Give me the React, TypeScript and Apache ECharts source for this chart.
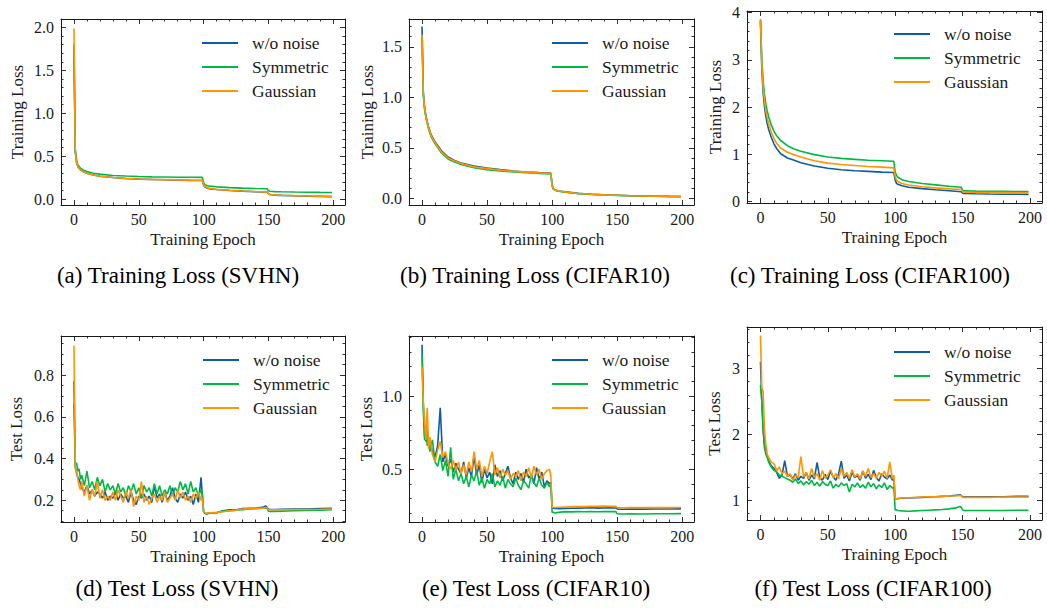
import React, { useEffect, useRef } from "react";
import * as echarts from "echarts";

const FONT = '"Liberation Serif", "Times New Roman", serif';
const INK = "#1a1a1a";
const NAMES = ["w/o noise", "Symmetric", "Gaussian"];
const COLORS = ["#0C5DA5", "#00B945", "#FF9500"];

// ---------- x ticks ----------
const xMajorTicks = [0, 50, 100, 150, 200];
const xMinorTicks = [10, 20, 30, 40, 60, 70, 80, 90, 110, 120, 130, 140, 160, 170, 180, 190];

// ---------- (a) Training Loss (SVHN) ----------
const svhnTrainEpochs = [0, 1, 2, 3, 4, 5, 7, 10, 15, 20, 30, 40, 50, 60, 70, 80, 90, 99, 100, 101, 103, 105, 110, 120, 130, 140, 149, 150, 151, 155, 160, 170, 180, 190, 199];
const svhnTrainClean = [1.80, 0.55, 0.42, 0.38, 0.36, 0.34, 0.32, 0.30, 0.28, 0.265, 0.25, 0.24, 0.232, 0.228, 0.224, 0.22, 0.217, 0.215, 0.16, 0.14, 0.125, 0.118, 0.11, 0.1, 0.092, 0.085, 0.078, 0.06, 0.052, 0.045, 0.042, 0.038, 0.034, 0.031, 0.028];
const svhnTrainSym = [1.65, 0.58, 0.45, 0.40, 0.38, 0.36, 0.34, 0.32, 0.30, 0.29, 0.275, 0.268, 0.262, 0.258, 0.256, 0.254, 0.253, 0.252, 0.19, 0.165, 0.155, 0.15, 0.142, 0.133, 0.127, 0.122, 0.119, 0.095, 0.09, 0.086, 0.084, 0.081, 0.079, 0.077, 0.076];
const svhnTrainGauss = [1.99, 0.56, 0.43, 0.38, 0.36, 0.34, 0.32, 0.30, 0.28, 0.265, 0.25, 0.24, 0.233, 0.229, 0.226, 0.223, 0.22, 0.218, 0.165, 0.145, 0.13, 0.122, 0.112, 0.102, 0.094, 0.087, 0.08, 0.062, 0.054, 0.047, 0.043, 0.039, 0.035, 0.032, 0.03];
const svhnTrainYMajor = [0, 0.5, 1, 1.5, 2];
const svhnTrainYMinor = [0.1, 0.2, 0.3, 0.4, 0.6, 0.7, 0.8, 0.9, 1.1, 1.2, 1.3, 1.4, 1.6, 1.7, 1.8, 1.9];

// ---------- (b) Training Loss (CIFAR10) ----------
const c10TrainEpochs = [0, 1, 2, 3, 4, 5, 7, 10, 15, 20, 25, 30, 40, 50, 60, 70, 80, 90, 99, 100, 101, 103, 105, 110, 120, 130, 140, 150, 160, 170, 180, 190, 199];
const c10TrainClean = [1.70, 1.05, 0.90, 0.82, 0.76, 0.71, 0.63, 0.56, 0.47, 0.41, 0.375, 0.35, 0.32, 0.30, 0.285, 0.272, 0.262, 0.255, 0.25, 0.13, 0.095, 0.08, 0.074, 0.065, 0.05, 0.042, 0.036, 0.031, 0.027, 0.024, 0.022, 0.02, 0.019];
const c10TrainSym = [1.60, 1.02, 0.88, 0.80, 0.74, 0.69, 0.61, 0.54, 0.45, 0.39, 0.36, 0.335, 0.305, 0.285, 0.272, 0.262, 0.255, 0.248, 0.242, 0.12, 0.09, 0.077, 0.071, 0.062, 0.048, 0.04, 0.034, 0.03, 0.026, 0.023, 0.021, 0.019, 0.018];
const c10TrainGauss = [1.62, 1.04, 0.89, 0.81, 0.75, 0.70, 0.62, 0.55, 0.46, 0.40, 0.37, 0.345, 0.312, 0.295, 0.28, 0.268, 0.26, 0.253, 0.248, 0.125, 0.093, 0.079, 0.073, 0.064, 0.049, 0.041, 0.035, 0.031, 0.027, 0.024, 0.022, 0.02, 0.019];
const c10TrainYMajor = [0, 0.5, 1, 1.5];
const c10TrainYMinor = [0.1, 0.2, 0.3, 0.4, 0.6, 0.7, 0.8, 0.9, 1.1, 1.2, 1.3, 1.4, 1.6, 1.7];

// ---------- (c) Training Loss (CIFAR100) ----------
const c100TrainEpochs = [0, 1, 2, 3, 4, 5, 6, 8, 10, 12, 15, 20, 25, 30, 40, 50, 60, 70, 80, 90, 99, 100, 101, 102, 105, 110, 120, 130, 140, 149, 150, 151, 160, 170, 180, 190, 199];
const c100TrainClean = [3.82, 2.80, 2.30, 2.00, 1.80, 1.65, 1.53, 1.36, 1.22, 1.12, 1.01, 0.92, 0.87, 0.82, 0.75, 0.70, 0.67, 0.65, 0.635, 0.62, 0.61, 0.45, 0.38, 0.36, 0.33, 0.30, 0.27, 0.245, 0.225, 0.205, 0.175, 0.168, 0.16, 0.155, 0.152, 0.15, 0.147];
const c100TrainSym = [3.86, 3.00, 2.55, 2.26, 2.06, 1.92, 1.80, 1.62, 1.49, 1.39, 1.29, 1.18, 1.11, 1.06, 0.99, 0.94, 0.91, 0.89, 0.87, 0.86, 0.85, 0.62, 0.55, 0.51, 0.46, 0.42, 0.38, 0.35, 0.32, 0.30, 0.235, 0.222, 0.217, 0.214, 0.212, 0.21, 0.208];
const c100TrainGauss = [3.84, 2.90, 2.42, 2.12, 1.92, 1.77, 1.65, 1.47, 1.33, 1.23, 1.13, 1.04, 0.99, 0.94, 0.86, 0.81, 0.78, 0.76, 0.74, 0.725, 0.71, 0.52, 0.45, 0.42, 0.38, 0.345, 0.31, 0.285, 0.265, 0.25, 0.205, 0.195, 0.19, 0.186, 0.184, 0.182, 0.18];
const c100TrainYMajor = [0, 1, 2, 3, 4];
const c100TrainYMinor = [0.2, 0.4, 0.6, 0.8, 1.2, 1.4, 1.6, 1.8, 2.2, 2.4, 2.6, 2.8, 3.2, 3.4, 3.6, 3.8];

// ---------- test-loss epochs (shared) ----------
const testEpochs = [0, 1, 2, 3, 4, 5, 6, 8, 10, 12, 14, 16, 18, 20, 22, 24, 26, 28, 30, 32, 34, 36, 38, 40, 42, 44, 46, 48, 50, 52, 54, 56, 58, 60, 62, 64, 66, 68, 70, 72, 74, 76, 78, 80, 82, 84, 86, 88, 90, 92, 94, 96, 98, 99, 100, 101, 102, 105, 110, 115, 120, 125, 130, 135, 140, 145, 148, 149, 150, 151, 155, 160, 170, 180, 190, 199];

// ---------- (d) Test Loss (SVHN) ----------
const svhnTestClean = [0.77, 0.36, 0.33, 0.31, 0.30, 0.28, 0.26, 0.24, 0.27, 0.23, 0.25, 0.22, 0.24, 0.23, 0.21, 0.24, 0.20, 0.22, 0.21, 0.24, 0.20, 0.23, 0.21, 0.22, 0.19, 0.24, 0.20, 0.18, 0.22, 0.21, 0.23, 0.20, 0.22, 0.19, 0.27, 0.21, 0.23, 0.19, 0.24, 0.20, 0.22, 0.26, 0.21, 0.19, 0.23, 0.21, 0.24, 0.20, 0.22, 0.18, 0.23, 0.19, 0.31, 0.22,
  0.145, 0.14, 0.135, 0.14, 0.14, 0.15, 0.155, 0.155, 0.16, 0.162, 0.163, 0.166, 0.172, 0.165, 0.158, 0.156, 0.156, 0.157, 0.158, 0.158, 0.16, 0.162];
const svhnTestSym = [0.66, 0.37, 0.38, 0.34, 0.35, 0.30, 0.32, 0.27, 0.34, 0.26, 0.29, 0.25, 0.31, 0.27, 0.30, 0.24, 0.28, 0.25, 0.27, 0.23, 0.28, 0.24, 0.26, 0.22, 0.27, 0.24, 0.28, 0.23, 0.26, 0.21, 0.27, 0.24, 0.26, 0.22, 0.28, 0.23, 0.27, 0.22, 0.25, 0.23, 0.27, 0.22, 0.26, 0.24, 0.29, 0.25, 0.28, 0.23, 0.29, 0.24, 0.26, 0.22, 0.25, 0.23,
  0.14, 0.14, 0.135, 0.138, 0.14, 0.148, 0.15, 0.152, 0.155, 0.158, 0.16, 0.162, 0.163, 0.16, 0.148, 0.146, 0.147, 0.148, 0.15, 0.151, 0.152, 0.155];
const svhnTestGauss = [0.94, 0.35, 0.34, 0.30, 0.27, 0.25, 0.29, 0.22, 0.27, 0.20, 0.25, 0.22, 0.29, 0.21, 0.25, 0.20, 0.22, 0.20, 0.24, 0.20, 0.25, 0.22, 0.19, 0.24, 0.21, 0.25, 0.17, 0.22, 0.20, 0.29, 0.19, 0.22, 0.18, 0.21, 0.23, 0.19, 0.22, 0.20, 0.24, 0.19, 0.21, 0.23, 0.20, 0.25, 0.21, 0.24, 0.20, 0.22, 0.19, 0.23, 0.21, 0.24, 0.20, 0.21,
  0.145, 0.14, 0.138, 0.14, 0.142, 0.145, 0.15, 0.153, 0.158, 0.16, 0.163, 0.162, 0.165, 0.163, 0.156, 0.155, 0.155, 0.155, 0.156, 0.156, 0.157, 0.158];
const svhnTestYMajor = [0.2, 0.4, 0.6, 0.8];
const svhnTestYMinor = [0.1, 0.15, 0.25, 0.3, 0.35, 0.45, 0.5, 0.55, 0.65, 0.7, 0.75, 0.85, 0.9, 0.95];

// ---------- (e) Test Loss (CIFAR10) ----------
const c10TestClean = [1.35, 0.95, 0.72, 0.69, 0.78, 0.66, 0.70, 0.62, 0.58, 0.66, 0.92, 0.55, 0.60, 0.52, 0.57, 0.48, 0.54, 0.50, 0.47, 0.55, 0.44, 0.51, 0.45, 0.59, 0.46, 0.53, 0.41, 0.50, 0.44, 0.48, 0.40, 0.53, 0.45, 0.49, 0.42, 0.47, 0.52, 0.44, 0.40, 0.48, 0.43, 0.47, 0.41, 0.50, 0.44, 0.46, 0.40, 0.51, 0.43, 0.48, 0.38, 0.42, 0.40, 0.41,
  0.235, 0.233, 0.232, 0.23, 0.232, 0.233, 0.234, 0.235, 0.236, 0.234, 0.235, 0.236, 0.235, 0.235, 0.228, 0.226, 0.226, 0.227, 0.227, 0.228, 0.228, 0.229];
const c10TestSym = [1.29, 0.90, 0.70, 0.78, 0.66, 0.72, 0.62, 0.70, 0.55, 0.52, 0.60, 0.49, 0.56, 0.45, 0.65, 0.43, 0.50, 0.42, 0.47, 0.40, 0.45, 0.38, 0.46, 0.42, 0.49, 0.39, 0.44, 0.37, 0.43, 0.40, 0.47, 0.38, 0.42, 0.39, 0.45, 0.37, 0.43, 0.40, 0.38, 0.44, 0.39, 0.36, 0.42, 0.40, 0.37, 0.46, 0.41, 0.38, 0.44, 0.39, 0.37, 0.41, 0.38, 0.40,
  0.205, 0.205, 0.2, 0.205, 0.21, 0.208, 0.21, 0.209, 0.21, 0.209, 0.211, 0.21, 0.21, 0.21, 0.195, 0.194, 0.194, 0.195, 0.194, 0.195, 0.195, 0.196];
const c10TestGauss = [1.20, 0.96, 0.82, 0.70, 0.92, 0.64, 0.72, 0.60, 0.55, 0.63, 0.69, 0.58, 0.62, 0.54, 0.50, 0.56, 0.49, 0.55, 0.47, 0.53, 0.46, 0.55, 0.48, 0.62, 0.50, 0.56, 0.45, 0.52, 0.47, 0.55, 0.62, 0.46, 0.51, 0.44, 0.50, 0.46, 0.49, 0.43, 0.47, 0.45, 0.49, 0.42, 0.48, 0.45, 0.51, 0.44, 0.52, 0.46, 0.50, 0.43, 0.47, 0.49, 0.50, 0.45,
  0.24, 0.24, 0.238, 0.24, 0.242, 0.243, 0.244, 0.245, 0.246, 0.247, 0.248, 0.246, 0.247, 0.246, 0.238, 0.236, 0.236, 0.237, 0.237, 0.237, 0.237, 0.238];
const c10TestYMajor = [0.5, 1.0];
const c10TestYMinor = [0.2, 0.3, 0.4, 0.6, 0.7, 0.8, 0.9, 1.1, 1.2, 1.3, 1.4];

// ---------- (f) Test Loss (CIFAR100) ----------
const c100TestClean = [3.10, 2.50, 2.05, 1.80, 1.70, 1.66, 1.60, 1.52, 1.48, 1.42, 1.33, 1.38, 1.60, 1.36, 1.38, 1.32, 1.40, 1.30, 1.36, 1.33, 1.42, 1.30, 1.38, 1.32, 1.57, 1.34, 1.30, 1.39, 1.31, 1.44, 1.35, 1.30, 1.40, 1.59, 1.33, 1.38, 1.29, 1.42, 1.34, 1.37, 1.30, 1.44, 1.33, 1.39, 1.31, 1.45, 1.34, 1.29, 1.40, 1.35, 1.32, 1.38, 1.30, 1.33,
  1.02, 1.02, 1.02, 1.03, 1.03, 1.035, 1.04, 1.045, 1.05, 1.055, 1.06, 1.07, 1.08, 1.07, 1.05, 1.05, 1.05, 1.05, 1.05, 1.05, 1.055, 1.055];
const c100TestSym = [2.75, 2.50, 2.10, 1.85, 1.72, 1.65, 1.58, 1.50, 1.45, 1.43, 1.38, 1.36, 1.34, 1.32, 1.30, 1.27, 1.32, 1.25, 1.29, 1.23, 1.28, 1.24, 1.30, 1.22, 1.27, 1.21, 1.28, 1.24, 1.22, 1.29, 1.18, 1.24, 1.20, 1.26, 1.22, 1.25, 1.12, 1.24, 1.20, 1.26, 1.19, 1.23, 1.18, 1.27, 1.20, 1.25, 1.17, 1.23, 1.19, 1.26, 1.16, 1.22, 1.18, 1.20,
  0.85, 0.85, 0.84, 0.835, 0.83, 0.835, 0.84, 0.845, 0.85, 0.855, 0.865, 0.88, 0.9, 0.89, 0.85, 0.84, 0.84, 0.84, 0.84, 0.84, 0.845, 0.845];
const c100TestGauss = [3.50, 2.70, 2.65, 2.05, 1.85, 1.70, 1.65, 1.58, 1.55, 1.45, 1.50, 1.40, 1.44, 1.36, 1.40, 1.30, 1.38, 1.34, 1.66, 1.35, 1.42, 1.32, 1.48, 1.34, 1.40, 1.30, 1.45, 1.33, 1.38, 1.46, 1.34, 1.40, 1.32, 1.48, 1.36, 1.42, 1.33, 1.46, 1.35, 1.40, 1.32, 1.44, 1.36, 1.48, 1.34, 1.40, 1.33, 1.42, 1.36, 1.44, 1.33, 1.58, 1.32, 1.38,
  1.02, 1.02, 1.025, 1.03, 1.035, 1.04, 1.045, 1.05, 1.05, 1.055, 1.06, 1.065, 1.07, 1.065, 1.04, 1.04, 1.04, 1.04, 1.04, 1.045, 1.045, 1.045];
const c100TestYMajor = [1, 2, 3];
const c100TestYMinor = [0.8, 1.2, 1.4, 1.6, 1.8, 2.2, 2.4, 2.6, 2.8, 3.2, 3.4, 3.6];

// ---------- panel layout ----------
type Panel = {
  grid: { left: number; top: number; width: number; height: number };
  yMin: number; yMax: number; yMajor: number[]; yMinor: number[]; dec: number;
  yName: string; yGap: number;
  epochs: number[]; values: number[][];
  legend: { left: number; top: number };
  caption: { text: string; x: number; y: number };
};

const panels: Panel[] = [
  { grid: { left: 61, top: 19, width: 284, height: 186 }, yMin: -0.07, yMax: 2.1, yMajor: svhnTrainYMajor, yMinor: svhnTrainYMinor, dec: 1,
    yName: "Training Loss", yGap: 35, epochs: svhnTrainEpochs, values: [svhnTrainClean, svhnTrainSym, svhnTrainGauss],
    legend: { left: 202, top: 34 }, caption: { text: "(a) Training Loss (SVHN)", x: 178, y: 275 } },
  { grid: { left: 409, top: 19, width: 285, height: 186 }, yMin: -0.065, yMax: 1.775, yMajor: c10TrainYMajor, yMinor: c10TrainYMinor, dec: 1,
    yName: "Training Loss", yGap: 33.5, epochs: c10TrainEpochs, values: [c10TrainClean, c10TrainSym, c10TrainGauss],
    legend: { left: 552, top: 34 }, caption: { text: "(b) Training Loss (CIFAR10)", x: 535, y: 275 } },
  { grid: { left: 747, top: 11, width: 295, height: 192 }, yMin: -0.035, yMax: 4.035, yMajor: c100TrainYMajor, yMinor: c100TrainYMinor, dec: 0,
    yName: "Training Loss", yGap: 23, epochs: c100TrainEpochs, values: [c100TrainClean, c100TrainSym, c100TrainGauss],
    legend: { left: 894, top: 25 }, caption: { text: "(c) Training Loss (CIFAR100)", x: 870, y: 275 } },
  { grid: { left: 61, top: 336, width: 284, height: 186 }, yMin: 0.096, yMax: 0.987, yMajor: svhnTestYMajor, yMinor: svhnTestYMinor, dec: 1,
    yName: "Test Loss", yGap: 36, epochs: testEpochs, values: [svhnTestClean, svhnTestSym, svhnTestGauss],
    legend: { left: 203, top: 351 }, caption: { text: "(d) Test Loss (SVHN)", x: 177, y: 588 } },
  { grid: { left: 409, top: 336, width: 285, height: 186 }, yMin: 0.139, yMax: 1.41, yMajor: c10TestYMajor, yMinor: c10TestYMinor, dec: 1,
    yName: "Test Loss", yGap: 34, epochs: testEpochs, values: [c10TestClean, c10TestSym, c10TestGauss],
    legend: { left: 552, top: 351 }, caption: { text: "(e) Test Loss (CIFAR10)", x: 536, y: 588 } },
  { grid: { left: 747, top: 327, width: 295, height: 193 }, yMin: 0.696, yMax: 3.63, yMajor: c100TestYMajor, yMinor: c100TestYMinor, dec: 0,
    yName: "Test Loss", yGap: 24.5, epochs: testEpochs, values: [c100TestClean, c100TestSym, c100TestGauss],
    legend: { left: 894, top: 343 }, caption: { text: "(f) Test Loss (CIFAR100)", x: 873, y: 588 } },
];

function buildOption() {
  const grid: any[] = [];
  const xAxis: any[] = [];
  const yAxis: any[] = [];
  const series: any[] = [];
  const legend: any[] = [];
  const graphic: any[] = [];

  const lineStyle = { color: INK, width: 1 };
  const tickStyle = { color: INK, width: 0.9 };

  panels.forEach((p, gi) => {
    grid.push({ ...p.grid, containLabel: false });
    const xb = xAxis.length;
    const yb = yAxis.length;
    const xBase = { type: "value", gridIndex: gi, min: -10, max: 209, offset: 0, splitLine: { show: false } };
    xAxis.push({ ...xBase, position: "bottom",
      axisLine: { show: true, onZero: false, lineStyle },
      axisTick: { show: true, inside: true, length: 5, customValues: xMajorTicks, lineStyle: tickStyle },
      axisLabel: { show: true, customValues: xMajorTicks, margin: 6, fontFamily: FONT, fontSize: 16, color: INK },
      name: "Training Epoch", nameLocation: "middle", nameGap: 26,
      nameTextStyle: { fontFamily: FONT, fontSize: 17, color: INK } });
    xAxis.push({ ...xBase, position: "bottom", axisLine: { show: false, onZero: false },
      axisTick: { show: true, inside: true, length: 2.5, customValues: xMinorTicks, lineStyle: tickStyle },
      axisLabel: { show: false } });
    xAxis.push({ ...xBase, position: "top", axisLine: { show: true, onZero: false, lineStyle },
      axisTick: { show: true, inside: true, length: 5, customValues: xMajorTicks, lineStyle: tickStyle },
      axisLabel: { show: false } });
    xAxis.push({ ...xBase, position: "top", axisLine: { show: false, onZero: false },
      axisTick: { show: true, inside: true, length: 2.5, customValues: xMinorTicks, lineStyle: tickStyle },
      axisLabel: { show: false } });

    const yBase = { type: "value", gridIndex: gi, min: p.yMin, max: p.yMax, offset: 0, splitLine: { show: false } };
    yAxis.push({ ...yBase, position: "left",
      axisLine: { show: true, onZero: false, lineStyle },
      axisTick: { show: true, inside: true, length: 5, customValues: p.yMajor, lineStyle: tickStyle },
      axisLabel: { show: true, customValues: p.yMajor, margin: 7, fontFamily: FONT, fontSize: 16, color: INK,
        formatter: (v: number) => Number(v).toFixed(p.dec) },
      name: p.yName, nameLocation: "middle", nameGap: p.yGap,
      nameTextStyle: { fontFamily: FONT, fontSize: 17, color: INK } });
    yAxis.push({ ...yBase, position: "left", axisLine: { show: false, onZero: false },
      axisTick: { show: true, inside: true, length: 2.5, customValues: p.yMinor, lineStyle: tickStyle },
      axisLabel: { show: false } });
    yAxis.push({ ...yBase, position: "right", axisLine: { show: true, onZero: false, lineStyle },
      axisTick: { show: true, inside: true, length: 5, customValues: p.yMajor, lineStyle: tickStyle },
      axisLabel: { show: false } });
    yAxis.push({ ...yBase, position: "right", axisLine: { show: false, onZero: false },
      axisTick: { show: true, inside: true, length: 2.5, customValues: p.yMinor, lineStyle: tickStyle },
      axisLabel: { show: false } });

    p.values.forEach((vals, si) => {
      series.push({
        type: "line", name: NAMES[si], xAxisIndex: xb, yAxisIndex: yb,
        data: p.epochs.map((e, i) => [e, vals[i]]),
        symbol: "none", showSymbol: false, silent: true,
        lineStyle: { width: 1.6, color: COLORS[si] }, itemStyle: { color: COLORS[si] },
        z: 2 + si,
      });
    });

    legend.push({
      orient: "vertical", left: p.legend.left, top: p.legend.top, padding: 0,
      icon: "rect", itemWidth: 36, itemHeight: 2, itemGap: 6, selectedMode: false,
      data: NAMES,
      textStyle: { fontFamily: FONT, fontSize: 17.5, color: INK, padding: [0, 0, 0, 9] },
    });

    graphic.push({
      type: "text", x: p.caption.x, y: p.caption.y, silent: true,
      style: { text: p.caption.text, fontFamily: FONT, fontSize: 23, fill: "#000", align: "center", verticalAlign: "middle" },
    });
  });

  return {
    animation: false,
    backgroundColor: "#ffffff",
    textStyle: { fontFamily: FONT },
    grid, xAxis, yAxis, series, legend, graphic,
  };
}

export default function App() {
  const ref = useRef<HTMLDivElement>(null);
  useEffect(() => {
    if (!ref.current) return;
    const chart = echarts.init(ref.current, undefined, { renderer: "svg", width: 1047, height: 609 });
    chart.setOption(buildOption() as any);
    return () => chart.dispose();
  }, []);
  return (
    <div
      ref={ref}
      style={{ position: "absolute", left: 0, top: 0, width: 1047, height: 609, background: "#fff" }}
    />
  );
}
